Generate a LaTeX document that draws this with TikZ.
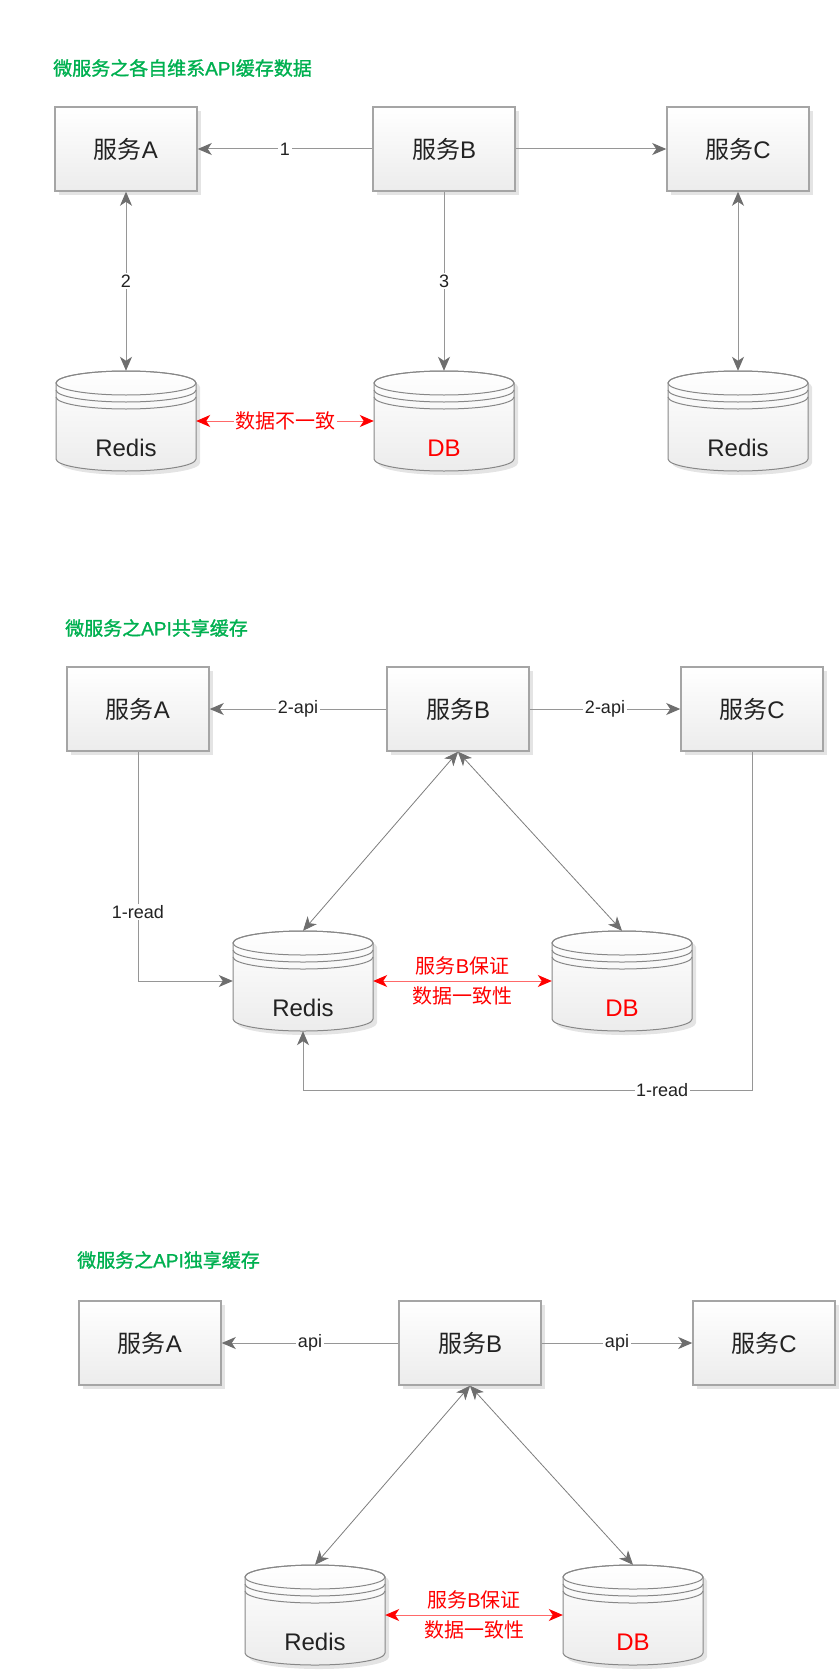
\documentclass[tikz,border=0pt]{standalone}
\usepackage{fontspec}
\setmainfont{Liberation Sans}
\newfontfamily\cjk{Noto Sans CJK SC}
\newfontfamily\cjkhead[FakeBold=1.2]{Noto Sans CJK SC}
\newfontfamily\latinhead[FakeBold=1.2]{Liberation Sans}
\usetikzlibrary{arrows.meta,shadows,positioning,calc}
\definecolor{linegray}{RGB}{150,150,150}
\definecolor{diaggray}{RGB}{125,125,125}
\definecolor{tipgray}{RGB}{110,110,110}
\definecolor{boxline}{RGB}{165,165,165}
\definecolor{cylline}{RGB}{135,135,135}
\definecolor{boxbottom}{RGB}{236,236,236}
\definecolor{shadowgray}{RGB}{228,228,228}
\definecolor{txtdark}{RGB}{34,34,34}
\definecolor{titlegreen}{RGB}{0,176,80}
\definecolor{redline}{RGB}{255,105,105}
\newcommand\bigfont{\fontsize{24pt}{28pt}\selectfont}
\newcommand\smallfont{\fontsize{18pt}{22pt}\selectfont}
\newcommand\redfont{\fontsize{20pt}{30pt}\selectfont}

\tikzset{
  dbcyl/.pic={
    \fill[shadowgray] (-66,-34) -- (-66,42) arc[start angle=180,end angle=360,x radius=70pt,y radius=12pt]
      -- (74,-34) arc[start angle=0,end angle=180,x radius=70pt,y radius=12pt] -- cycle;
    \path[draw=cylline, line width=1pt, top color=white, bottom color=boxbottom]
      (-70,-38) -- (-70,38) arc[start angle=180,end angle=360,x radius=70pt,y radius=12pt]
      -- (70,-38) arc[start angle=0,end angle=180,x radius=70pt,y radius=12pt] -- cycle;
    \draw[cylline, line width=1pt] (0,-38) ellipse[x radius=70pt, y radius=12pt];
    \draw[cylline, line width=1pt] (-70,-31) arc[start angle=180,end angle=360,x radius=70pt,y radius=12pt]
      (-70,-24) arc[start angle=180,end angle=360,x radius=70pt,y radius=12pt];
    \node[minimum width=140pt, minimum height=100pt, inner sep=0pt] (-body) at (0,0) {};
    \node[font=\bigfont, inner sep=0pt] (-text) at (0,27) {#1};
  }
}

\begin{document}
\begin{tikzpicture}[x=1pt, y=-1pt, text=txtdark,
  svc/.style={draw=boxline, line width=1.5pt, top color=white, bottom color=boxbottom,
    minimum width=142pt, minimum height=84pt, font=\bigfont,
    drop shadow={shadow xshift=4pt, shadow yshift=-4pt, fill=shadowgray, opacity=1}},
  title/.style={anchor=west, inner sep=0pt, text=titlegreen, font=\fontsize{19pt}{22pt}\selectfont\latinhead},
  conn/.style={draw=linegray, line width=1pt},
  diag/.style={draw=diaggray, line width=0.8pt},
  >={Stealth[length=14pt, width=12pt, inset=4pt, color=tipgray]},
  lbl/.style={fill=white, inner sep=1.5pt, font=\smallfont},
  redconn/.style={draw=redline, line width=1pt, {Stealth[length=14pt, width=12pt, inset=4pt, color=red]}-{Stealth[length=14pt, width=12pt, inset=4pt, color=red]}},
  redlbl/.style={fill=white, inner sep=1.5pt, text=red, font=\redfont},
  redlbltwo/.style={inner sep=0pt, align=center, text=red, font=\redfont}]

\useasboundingbox (0,0) rectangle (840,1672);

\node[title] (t1) at (53,68) {{\cjkhead 微服务之各自维系}API{\cjkhead 缓存数据}};
\node[svc] (a1) at (126,149) {{\cjk 服务}A};
\node[svc] (b1) at (444,149) {{\cjk 服务}B};
\node[svc] (c1) at (738,149) {{\cjk 服务}C};
\pic (ra1) at (126,421) {dbcyl=Redis};
\pic[text=red] (db1) at (444,421) {dbcyl=DB};
\pic (rc1) at (738,421) {dbcyl=Redis};
\draw[conn,->] (b1) -- node[lbl] {1} (a1);
\draw[conn,->] (b1) -- (c1);
\draw[conn,<->] (a1) -- node[lbl] {2} (ra1-body);
\draw[conn,->] (b1) -- node[lbl] {3} (db1-body);
\draw[conn,<->] (c1) -- (rc1-body);
\draw[redconn] (ra1-body) -- node[redlbl] {{\cjk 数据不一致}} (db1-body);

\node[title] (t2) at (65,628) {{\cjkhead 微服务之}API{\cjkhead 共享缓存}};
\node[svc] (a2) at (138,709) {{\cjk 服务}A};
\node[svc] (b2) at (458,709) {{\cjk 服务}B};
\node[svc] (c2) at (752,709) {{\cjk 服务}C};
\pic (r2) at (303,981) {dbcyl=Redis};
\pic[text=red] (db2) at (622,981) {dbcyl=DB};
\coordinate (k2) at (752,1090);
\draw[conn,->] (b2) -- node[lbl] {2-api} (a2);
\draw[conn,->] (b2) -- node[lbl] {2-api} (c2);
\draw[diag,<->] (b2.south) -- (r2-body.north);
\draw[diag,<->] (b2.south) -- (db2-body.north);
\draw[conn,->] (a2.south) |- node[lbl, pos=0.35] {1-read} (r2-body.west);
\draw[conn,->] (c2.south) -- (k2) -| node[lbl, pos=0.1] {1-read} (r2-body.south);
\draw[redconn] (r2-body) -- node[redlbltwo] {{\cjk 服务}B{\cjk 保证}\\{\cjk 数据一致性}} (db2-body);

\node[title] (t3) at (77,1260) {{\cjkhead 微服务之}API{\cjkhead 独享缓存}};
\node[svc] (a3) at (150,1343) {{\cjk 服务}A};
\node[svc] (b3) at (470,1343) {{\cjk 服务}B};
\node[svc] (c3) at (764,1343) {{\cjk 服务}C};
\pic (r3) at (315,1615) {dbcyl=Redis};
\pic[text=red] (db3) at (633,1615) {dbcyl=DB};
\draw[conn,->] (b3) -- node[lbl] {api} (a3);
\draw[conn,->] (b3) -- node[lbl] {api} (c3);
\draw[diag,<->] (b3.south) -- (r3-body.north);
\draw[diag,<->] (b3.south) -- (db3-body.north);
\draw[redconn] (r3-body) -- node[redlbltwo] {{\cjk 服务}B{\cjk 保证}\\{\cjk 数据一致性}} (db3-body);
\end{tikzpicture}
\end{document}
